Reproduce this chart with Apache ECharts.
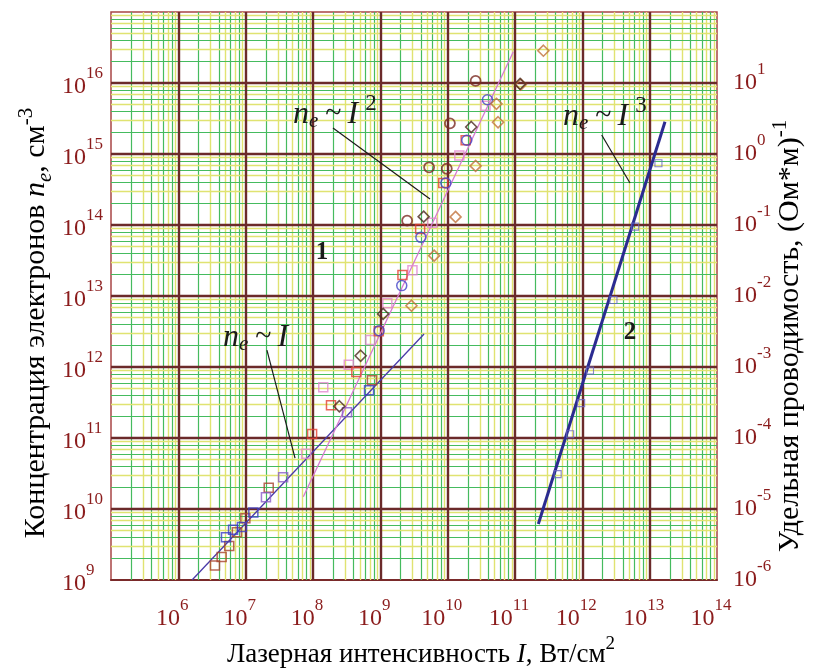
<!DOCTYPE html>
<html><head><meta charset="utf-8">
<script src="https://cdn.jsdelivr.net/npm/echarts@6/dist/echarts.min.js"></script>
<style>html,body{margin:0;padding:0;background:#fff}#c{width:818px;height:671px}</style>
</head><body><div id="c"></div><script>
// ---- tick labels (exponents of 10) ----
const xTickExp = [6,7,8,9,10,11,12,13,14];
const yLeftTickExp = [9,10,11,12,13,14,15,16];
const yRightTickExp = [-6,-5,-4,-3,-2,-1,0,1];
const xRange = [1e5, 1e14];
const yLeftRange = [1e9, 1e17];
const yRightRange = [1e-6, 1e2];

// ---- curve 1: electron concentration n_e (cm^-3) vs intensity I (W/cm^2) ----
const sqBlue   = [[5.1e6,4.0e9],[6.5e6,5.1e9],[8.8e6,5.6e9],[1.3e7,8.9e9],[6.8e8,4.7e11]];
const sqPurple = [[2.0e7,1.46e10],[3.6e7,2.8e10],[3.2e8,2.3e11]];
const sqRed    = [[9.7e7,1.14e11],[1.85e8,2.9e11],[4.4e8,8.5e11],[9.5e8,3.2e12],[2.13e9,1.98e13],[3.9e9,8.8e13],[8.6e9,3.9e14],[1.85e10,1.56e15]];
const sqPink   = [[7.9e7,6.0e10],[1.42e8,5.2e11],[3.4e8,1.08e12],[7.1e8,2.4e12],[1.27e9,7.9e12],[3.0e9,2.3e13],[5.9e9,1.08e14],[1.49e10,9.5e14],[3.65e10,4.8e15]];
const sqBrown  = [[3.5e6,1.6e9],[4.4e6,2.1e9],[5.7e6,3.0e9],[7.4e6,4.7e9],[9.9e6,7.4e9],[2.2e7,2.0e10],[7.5e8,6.5e11]];
const circBlue = [[9.6e8,3.25e12],[2.08e9,1.4e13],[4.0e9,6.7e13],[9.4e9,3.9e14],[1.92e10,1.56e15],[3.9e10,5.8e15]];
const circDark = [[2.5e9,1.15e14],[5.3e9,6.5e14],[9.7e9,6.2e14],[1.08e10,2.7e15],[2.6e10,1.07e16]];
const diaDark  = [[2.46e8,2.8e11],[5.1e8,1.44e12],[1.1e9,5.6e12],[4.4e9,1.31e14],[2.24e10,2.4e15],[1.19e11,9.7e15]];
const diaOrange= [[2.9e9,7.3e12],[6.3e9,3.7e13],[1.31e10,1.3e14],[2.6e10,6.8e14],[5.6e10,2.8e15],[5.3e10,5.1e15],[1.22e11,9.5e15],[2.64e11,2.85e16]];
// fitted lines
const fitI  = [[1.6e6,1.0e9],[4.46e9,2.92e12]];
const fitI2 = [[7.18e7,1.49e10],[9.44e10,2.76e16]];

// ---- curve 2: conductivity sigma ((Ohm*m)^-1) vs intensity ----
const cond2 = [[4.3e11,3.1e-5],[6.6e11,1.13e-4],[9.6e11,3.1e-4],[1.3e12,8.9e-4],[2.9e12,8.8e-3],[6.1e12,9.5e-2],[1.35e13,0.74]];
const fitI3 = [[2.22e11,6.15e-6],[1.69e13,2.85]];

// ---- annotation anchors (data coordinates; formula anchors = left end of text baseline) ----
const arrowI2 = [[1.98e8,2.32e15],[5.47e9,2.32e14]];
const arrowI  = [[2.07e7,1.73e12],[5.41e7,5.2e10]];
const leaderI3 = [[1.94e12,1.85e15],[5.1e12,3.9e14]];
const annPos = {
  i2: [5.05e7, 2.56e15], i1: [4.6e6, 1.85e12], i3: [5.16e11, 2.40e15],
  one: [1.36e8, 4.04e13], two: [5.1e12, 3.1e12]
};

const SERIF = '"Liberation Serif","DejaVu Serif",serif';
const GREEN = '#45bb5e', YELLOW = '#e0e371', MAJOR = '#6b2a2a';

function minorLines(lo, hi, key) {
  const out = [];
  for (let d = lo; d < hi; d++) {
    for (let m = 2; m <= 9; m++) {
      out.push({[key]: m * Math.pow(10, d), lineStyle: {color: (m % 2 === 0) ? GREEN : YELLOW, width: (m % 2 === 0) ? 1.2 : 1.4}});
    }
  }
  return out;
}
function majorLines(lo, hi, key) {
  const out = [];
  for (let d = lo + 1; d < hi; d++) out.push({[key]: Math.pow(10, d)});
  return out;
}
const LBL = '#8b1c1c';
const tickRich = {
  b: {fontSize: 24, fontFamily: SERIF, color: LBL, lineHeight: 44, verticalAlign: 'middle'},
  s: {fontSize: 17, fontFamily: SERIF, color: LBL, lineHeight: 12, verticalAlign: 'top'}
};
function tickFmt(list) {
  return v => {
    const e = Math.round(Math.log10(v));
    return list.includes(e) ? '{b|10}{s|' + e + '}' : '';
  };
}
function scat(data, symbol, color, size, bw, yIdx) {
  return {type: 'scatter', data, symbol, symbolSize: size, yAxisIndex: yIdx || 0, z: 10,
    itemStyle: {color: 'rgba(255,255,255,0)', borderColor: color, borderWidth: bw},
    emphasis: {disabled: true}, silent: true};
}
const chart = echarts.init(document.getElementById('c'));
chart.setOption({
  animation: false,
  backgroundColor: '#ffffff',
  grid: {left: 111, right: 101, top: 12, bottom: 91, show: true, borderColor: '#a84545', borderWidth: 1.5, backgroundColor: 'transparent'},
  xAxis: {type: 'log', logBase: 10, min: xRange[0], max: xRange[1], splitNumber: 9,
    axisLine: {show: true, lineStyle: {color: '#7a2a2a', width: 2}}, axisTick: {show: false}, splitLine: {show: false},
    axisLabel: {formatter: tickFmt(xTickExp), rich: tickRich, margin: 17, padding: [0, 12, 0, 0], showMinLabel: true, showMaxLabel: true}},
  yAxis: [
    {type: 'log', logBase: 10, min: yLeftRange[0], max: yLeftRange[1], splitNumber: 8, position: 'left',
      axisLine: {show: false}, axisTick: {show: false}, splitLine: {show: false},
      axisLabel: {formatter: tickFmt(yLeftTickExp), rich: tickRich, margin: 49, align: 'left', padding: [8, 0, 0, 0], showMinLabel: true, showMaxLabel: true}},
    {type: 'log', logBase: 10, min: yRightRange[0], max: yRightRange[1], splitNumber: 8, position: 'right',
      axisLine: {show: false}, axisTick: {show: false}, splitLine: {show: false},
      axisLabel: {formatter: tickFmt(yRightTickExp), rich: tickRich, margin: 16, align: 'left', showMinLabel: true, showMaxLabel: true}}
  ],
  series: [
    {type: 'line', data: [], silent: true, z: 1,
      markLine: {silent: true, symbol: ['none','none'], label: {show: false}, z: 1, animation: false, emphasis: {disabled: true},
        lineStyle: {type: 'solid'},
        data: minorLines(5, 14, 'xAxis').concat(minorLines(9, 17, 'yAxis'))}},
    {type: 'line', data: [], silent: true, z: 2,
      markLine: {silent: true, symbol: ['none','none'], label: {show: false}, z: 2, animation: false, emphasis: {disabled: true},
        lineStyle: {type: 'solid', color: MAJOR, width: 2.4},
        data: majorLines(5, 14, 'xAxis').concat(majorLines(9, 17, 'yAxis'))}},
    {type: 'line', data: fitI, showSymbol: false, symbol: 'none', z: 5, lineStyle: {color: '#4a3aa8', width: 1.3}, silent: true,
      markLine: {silent: true, symbol: ['none','arrow'], symbolSize: [0, 11], label: {show: false}, z: 6, animation: false,
        lineStyle: {type: 'solid', color: '#1a1a1a', width: 1.2},
        data: [[{coord: arrowI[0]}, {coord: arrowI[1]}], [{coord: arrowI2[0]}, {coord: arrowI2[1]}]]}},
    {type: 'line', data: fitI2, showSymbol: false, symbol: 'none', z: 5, lineStyle: {color: '#d57ad0', width: 1.3}, silent: true},
    {type: 'line', data: fitI3, yAxisIndex: 1, showSymbol: false, symbol: 'none', z: 5, lineStyle: {color: '#2b2b90', width: 3}, silent: true,
      markLine: {silent: true, symbol: ['none','none'], label: {show: false}, z: 6, animation: false,
        lineStyle: {type: 'solid', color: '#1a1a1a', width: 1.2},
        data: [[{coord: [leaderI3[0][0], leaderI3[0][1] / 1e15]}, {coord: [leaderI3[1][0], leaderI3[1][1] / 1e15]}]]}},
    scat(sqBrown, 'rect', '#a8442e', 9, 1.5),
    scat(sqBlue, 'rect', '#3c3cc4', 9, 1.5),
    scat(sqPurple, 'rect', '#8a5cc8', 9, 1.5),
    scat(sqPink, 'rect', '#e288cf', 9, 1.5),
    scat(sqRed, 'rect', '#e4402e', 9, 1.5),
    scat(circBlue, 'circle', '#4444c8', 10, 1.5),
    scat(circDark, 'circle', '#7a2a22', 10, 1.8),
    scat(diaOrange, 'diamond', '#c0703a', 11, 1.6),
    scat(diaDark, 'diamond', '#4a2a1e', 11, 1.6),
    scat(cond2, 'rect', '#6a66c0', 7, 1.1, 1)
  ]
});

// ---- text annotations placed from data coordinates ----
const px = (pt, idx) => chart.convertToPixel({xAxisIndex: 0, yAxisIndex: idx || 0}, pt);
const INK = '#1a1a1a';
const mctx = document.createElement('canvas').getContext('2d');
function tw(t, fs, it) { mctx.font = (it ? 'italic ' : '') + fs + 'px ' + SERIF; return mctx.measureText(t).width; }
// pieces: text, font size, italic, baseline shift, gap before
function formula(pt, pieces) {
  const p = px(pt);
  let x = p[0];
  return pieces.map(pc => {
    x += pc.g || 0;
    const el = {type: 'text', x: x, y: p[1] + (pc.dy || 0) - 0.3375 * pc.fs, z: 20, silent: true,
      style: {text: pc.t, fontSize: pc.fs, fontFamily: SERIF, fontStyle: pc.it ? 'italic' : 'normal', fill: INK,
        textAlign: 'left', textVerticalAlign: 'middle'}};
    x += tw(pc.t, pc.fs, pc.it);
    return el;
  });
}
function neI(pow) {
  const pcs = [
    {t: 'n', fs: 32, it: true},
    {t: 'e', fs: 21, it: true, dy: 4},
    {t: '~', fs: 30, dy: -1, g: 7},
    {t: 'I', fs: 32, it: true, g: 6}
  ];
  if (pow) pcs.push({t: pow, fs: 23, dy: -13, g: 7});
  return pcs;
}
function big(pt, text) {
  const p = px(pt);
  return {type: 'text', x: p[0], y: p[1], z: 20, silent: true,
    style: {text, fontSize: 25, fontWeight: 'bold', fontFamily: SERIF, fill: INK, textAlign: 'center', textVerticalAlign: 'middle'}};
}
function titleRich(fs) {
  const ss = Math.round(fs * 0.7);
  return {
    r: {fontSize: fs, fontFamily: SERIF, color: INK, lineHeight: 40, verticalAlign: 'middle'},
    i: {fontSize: fs, fontFamily: SERIF, fontStyle: 'italic', color: INK, lineHeight: 40, verticalAlign: 'middle'},
    sb: {fontSize: ss, fontFamily: SERIF, fontStyle: 'italic', color: INK, verticalAlign: 'bottom', lineHeight: 32},
    sp: {fontSize: ss, fontFamily: SERIF, color: INK, verticalAlign: 'top', lineHeight: 16}
  };
}
chart.setOption({
  graphic: [].concat(
    formula(annPos.i2, neI('2')),
    formula(annPos.i1, neI('')),
    formula(annPos.i3, neI('3')),
    [
      big(annPos.one, '1'),
      big(annPos.two, '2'),
      {type: 'text', x: 421, y: 655, silent: true,
        style: {text: '{r|Лазерная интенсивность }{i|I}{r|, Вт/см}{sp|2}', rich: titleRich(27), textAlign: 'center', textVerticalAlign: 'middle'}},
      {type: 'text', x: 36, y: 323, rotation: Math.PI / 2, silent: true,
        style: {text: '{r|Концентрация электронов }{i|n}{sb|e}{r|, см}{sp|-3}', rich: titleRich(30), textAlign: 'center', textVerticalAlign: 'middle'}},
      {type: 'text', x: 790, y: 336, rotation: Math.PI / 2, silent: true,
        style: {text: '{r|Удельная проводимость, (Ом*м)}{sp|-1}', rich: titleRich(30), textAlign: 'center', textVerticalAlign: 'middle'}}
    ]
  )
});
</script></body></html>
